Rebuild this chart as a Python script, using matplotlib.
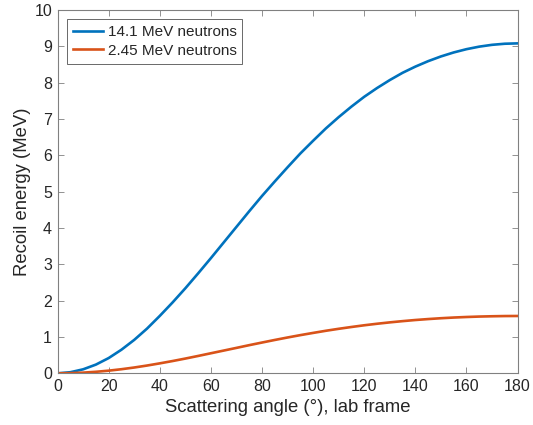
import matplotlib
matplotlib.use("Agg")
import matplotlib.pyplot as plt

plt.rcParams['font.family'] = ['Liberation Sans', 'DejaVu Sans']

# Scattering angle in the lab frame (degrees)
angle_deg = [0, 5, 10, 15, 20, 25, 30, 35, 40, 45, 50, 55, 60, 65, 70, 75, 80, 85, 90,
             95, 100, 105, 110, 115, 120, 125, 130, 135, 140, 145, 150, 155, 160, 165,
             170, 175, 180]

# Recoil energy (MeV) for 14.1 MeV neutrons
recoil_14 = [0.0, 0.03, 0.11, 0.24, 0.42, 0.65, 0.92, 1.23, 1.58, 1.95, 2.34, 2.75, 3.17,
             3.60, 4.03, 4.46, 4.88, 5.28, 5.67, 6.05, 6.40, 6.74, 7.05, 7.34, 7.61, 7.85,
             8.07, 8.27, 8.44, 8.59, 8.72, 8.83, 8.92, 8.99, 9.04, 9.07, 9.08]

# Recoil energy (MeV) for 2.45 MeV neutrons
recoil_245 = [0.0, 0.005, 0.019, 0.042, 0.073, 0.113, 0.160, 0.214, 0.274, 0.338, 0.406,
              0.478, 0.552, 0.626, 0.700, 0.775, 0.847, 0.918, 0.986, 1.051, 1.112, 1.171,
              1.225, 1.275, 1.322, 1.364, 1.402, 1.436, 1.467, 1.493, 1.516, 1.535, 1.550,
              1.562, 1.570, 1.576, 1.578]

series_labels = ['14.1 MeV neutrons', '2.45 MeV neutrons']
x_ticks = [0, 20, 40, 60, 80, 100, 120, 140, 160, 180]
y_ticks = [0, 1, 2, 3, 4, 5, 6, 7, 8, 9, 10]

fig = plt.figure(figsize=(5.33, 4.25), dpi=100)
ax = fig.add_axes([0.108, 0.1216, 0.863, 0.855])

ax.plot(angle_deg, recoil_14, color='#0072BD', lw=1.9, label=series_labels[0])
ax.plot(angle_deg, recoil_245, color='#D95319', lw=1.9, label=series_labels[1])

ax.set_xlim(0, 180)
ax.set_ylim(0, 10)
ax.set_xticks(x_ticks)
ax.set_yticks(y_ticks)

axis_col = '#262626'
for s in ax.spines.values():
    s.set_color('#808080')
    s.set_linewidth(0.8)
ax.tick_params(direction='in', length=4, width=0.6, colors='#808080',
               labelcolor=axis_col, labelsize=11.5, top=True, right=True, pad=4)

ax.set_xlabel('Scattering angle (°), lab frame', fontsize=13.3, color=axis_col, labelpad=4)
ax.set_ylabel('Recoil energy (MeV)', fontsize=13.3, color=axis_col, labelpad=2.5)

leg = ax.legend(loc='upper left', fontsize=11, frameon=True, fancybox=False,
                edgecolor='#262626', handlelength=2.0, borderpad=0.38,
                labelspacing=0.32, handletextpad=0.3, borderaxespad=0.6)
leg.get_frame().set_linewidth(0.6)
for t in leg.get_texts():
    t.set_color(axis_col)

fig.savefig('out.png', dpi=100)
